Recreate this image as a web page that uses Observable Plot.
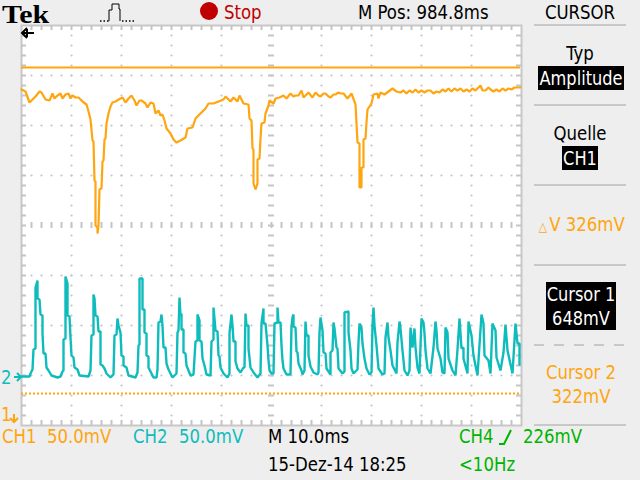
<!DOCTYPE html>
<html>
<head>
<meta charset="utf-8">
<script src="https://cdn.jsdelivr.net/npm/d3@7"></script>
<script src="https://cdn.jsdelivr.net/npm/@observablehq/plot@0.6"></script>
<style>
html,body{margin:0;padding:0;background:#eeeeee;width:640px;height:480px;overflow:hidden}
#scope{position:relative;width:640px;height:480px}
#scope svg.plot{position:absolute;left:0;top:0;background:transparent}
.t{position:absolute;font-family:"DejaVu Sans Condensed","Liberation Sans",sans-serif;font-size:20px;line-height:24px;white-space:pre;color:#000}
.sep{position:absolute;left:534px;width:92px;height:2px;background:#c8c8c8}
</style>
</head>
<body>
<div id="scope"></div>
<script>
// Sample column on the 500-point record, and screen level in mV above the bottom graticule edge.
const ch1Trace = [[0,336],[4,334],[8,323],[10,325],[14,329],[18,334],[20,333],[24,326],[28,325],[31,332],[33,327],[36,330],[39,332],[41,327],[44,331],[47,332],[49,327],[51,330],[54,328],[57,328],[61,324],[65,321],[67,314],[69,306],[71,285],[72,284],[73,245],[74,244],[74,200],[76,198],[76,192],[77,200],[78,236],[80,237],[81,264],[82,265],[83,286],[84,287],[85,302],[87,312],[89,319],[91,323],[94,324],[99,327],[101,328],[104,323],[107,327],[110,330],[113,325],[115,320],[118,325],[120,325],[124,322],[126,318],[129,323],[132,322],[134,312],[137,315],[139,310],[141,311],[143,305],[145,297],[149,292],[152,286],[155,283],[159,285],[164,288],[166,297],[171,298],[174,307],[179,312],[184,317],[187,322],[192,322],[197,324],[202,326],[204,329],[209,324],[212,328],[216,324],[218,330],[222,322],[227,321],[228,307],[230,305],[231,277],[232,276],[232,242],[234,236],[236,242],[236,266],[238,267],[239,287],[240,302],[243,303],[244,312],[247,320],[248,325],[252,322],[254,327],[258,328],[262,330],[265,327],[269,332],[272,329],[274,330],[277,330],[280,335],[282,328],[285,331],[287,333],[291,328],[294,333],[297,330],[299,329],[302,332],[304,332],[307,329],[309,328],[312,331],[314,331],[317,333],[319,332],[322,332],[326,327],[330,332],[334,321],[336,283],[338,282],[338,238],[340,238],[340,258],[342,258],[342,286],[344,287],[345,303],[346,316],[350,322],[352,331],[356,332],[357,327],[359,333],[363,331],[367,334],[371,337],[375,334],[379,333],[382,335],[385,332],[388,335],[391,333],[394,336],[397,333],[400,335],[403,333],[406,335],[409,335],[412,332],[415,334],[418,333],[421,336],[424,334],[427,337],[430,334],[433,337],[436,335],[439,337],[442,334],[445,336],[448,334],[451,337],[454,335],[457,338],[459,340],[461,335],[464,335],[467,338],[469,336],[472,334],[475,336],[478,334],[481,337],[484,335],[487,337],[490,336],[493,338],[496,338],[499,338]];
const ch2Trace = [[0,49],[4,49],[8,49],[9,52],[11,56],[12,76],[14,77],[14,138],[16,145],[16,127],[18,126],[19,111],[21,110],[21,92],[22,72],[24,72],[25,58],[27,55],[30,50],[36,48],[39,49],[41,54],[42,55],[42,86],[44,87],[44,149],[46,142],[46,110],[48,109],[49,88],[50,70],[52,68],[53,58],[56,56],[58,50],[67,49],[69,55],[70,90],[72,91],[72,131],[73,127],[74,110],[76,109],[77,94],[79,94],[79,61],[81,60],[83,57],[85,52],[89,48],[92,51],[93,90],[95,91],[96,107],[97,100],[99,93],[100,70],[102,69],[102,60],[105,58],[107,50],[114,48],[116,53],[117,80],[118,81],[118,147],[121,147],[121,116],[123,116],[123,93],[125,92],[125,70],[127,69],[127,58],[129,54],[132,48],[135,48],[136,56],[137,103],[139,104],[140,111],[141,100],[142,78],[144,78],[145,62],[147,56],[151,48],[155,52],[156,93],[157,95],[158,128],[159,110],[160,112],[160,96],[162,96],[162,73],[164,72],[165,60],[167,55],[169,50],[172,51],[174,84],[176,85],[176,111],[178,105],[178,85],[180,84],[181,67],[183,60],[185,51],[189,50],[190,84],[192,86],[192,118],[193,107],[194,95],[196,94],[197,70],[198,69],[199,58],[202,52],[206,48],[208,52],[208,92],[210,111],[211,100],[212,84],[214,84],[214,64],[216,57],[219,53],[222,58],[223,58],[224,112],[225,100],[227,100],[227,77],[229,58],[232,53],[236,48],[239,52],[240,102],[242,117],[242,102],[244,102],[246,80],[247,65],[248,55],[250,52],[252,52],[253,102],[256,103],[256,118],[257,103],[259,103],[260,80],[261,65],[262,57],[265,51],[269,51],[270,99],[271,108],[272,111],[272,99],[274,98],[275,74],[276,73],[277,62],[280,55],[281,51],[283,55],[284,104],[285,90],[287,90],[287,70],[289,59],[292,53],[296,51],[297,53],[298,93],[299,108],[301,95],[302,73],[304,72],[305,57],[309,51],[309,73],[311,75],[312,103],[313,97],[315,78],[316,77],[317,57],[321,52],[323,54],[323,113],[327,114],[327,93],[329,75],[330,57],[332,52],[336,56],[337,83],[338,102],[340,98],[341,82],[343,67],[345,57],[348,51],[350,53],[351,100],[352,118],[353,100],[355,80],[357,57],[361,51],[363,52],[364,88],[366,103],[367,88],[369,75],[371,60],[375,52],[376,83],[378,104],[379,97],[381,75],[383,55],[386,50],[388,55],[389,98],[391,78],[393,97],[394,78],[396,58],[398,52],[400,107],[402,103],[403,92],[404,75],[406,57],[409,52],[412,78],[414,104],[415,95],[416,77],[419,67],[421,53],[423,52],[424,98],[426,93],[427,67],[431,55],[434,50],[436,76],[438,107],[440,77],[442,78],[442,67],[446,52],[447,104],[450,90],[452,70],[456,50],[460,111],[462,102],[463,70],[467,65],[469,52],[471,102],[474,95],[475,68],[479,55],[482,73],[484,101],[486,75],[491,52],[494,102],[496,82],[498,82],[498,61]];
const cursor1Level = 358;
const cursor2Level = 32;
const gridSamples = [50,100,150,200,300,350,400,450];
const gridLevels = [50,100,150,250,300,350];
const minorSamples = d3.range(10,500,10);
const minorLevels = d3.range(10,400,10);
const centerSample = 250;
const centerLevel = 200;

const ORANGE = "#ffa50f", TEAL = "#0fbcbc", GRID = "#c4c4c4";
const dotsA = gridSamples.flatMap(x => minorLevels.map(y => ({x, y})));
const dotsB = gridLevels.flatMap(y => minorSamples.map(x => ({x, y})));

const chart = Plot.plot({
  width: 640, height: 480,
  marginLeft: 21, marginRight: 119, marginTop: 25, marginBottom: 55,
  x: {domain: [0, 500], axis: null},
  y: {domain: [0, 400], axis: null},
  marks: [
    Plot.frame({fill: "#ffffff", stroke: "#c8c8c8", strokeWidth: 2}),
    Plot.dot(dotsA, {x: "x", y: "y", r: 1.1, fill: GRID}),
    Plot.dot(dotsB, {x: "x", y: "y", r: 1.1, fill: GRID}),
    Plot.ruleY(minorLevels, {y: d => d, x1: 0, x2: 5, stroke: GRID, strokeWidth: 2}),
    Plot.ruleY(minorLevels, {y: d => d, x1: 495, x2: 500, stroke: GRID, strokeWidth: 2}),
    Plot.ruleX(minorSamples, {x: d => d, y1: 395, y2: 400, stroke: GRID, strokeWidth: 2}),
    Plot.ruleX(minorSamples, {x: d => d, y1: 0, y2: 5, stroke: GRID, strokeWidth: 2}),
    Plot.ruleY(minorLevels, {y: d => d, x1: centerSample - 3, x2: centerSample + 3, stroke: GRID, strokeWidth: 2}),
    Plot.ruleX(minorSamples, {x: d => d, y1: centerLevel - 3, y2: centerLevel + 3, stroke: GRID, strokeWidth: 2}),
    Plot.ruleY([cursor1Level], {x1: 0, x2: 499, stroke: ORANGE, strokeWidth: 2}),
    Plot.ruleY([cursor2Level], {x1: 0, x2: 499, stroke: ORANGE, strokeWidth: 2, strokeDasharray: "2,2"}),
    Plot.line(ch1Trace, {x: d => d[0], y: d => d[1], stroke: ORANGE, strokeWidth: 2.2, strokeLinejoin: "miter"}),
    Plot.line(ch2Trace, {x: d => d[0], y: d => d[1], stroke: TEAL, strokeWidth: 2.4, strokeLinejoin: "miter"})
  ]
});

const scope = document.getElementById("scope");
scope.appendChild(chart);

const labels = [
  ["M Pos: 984.8ms", 358, 0, "#000", "l"],
  ["CURSOR", 580, 0, "#000", "c"],
  ["Stop", 224, 0, "#c00000", "l"],
  ["Typ", 580, 41, "#000", "c"],
  ["Quelle", 580, 121, "#000", "c"],
  ["V 326mV", 587, 212, ORANGE, "c"],
  ["\u25B3", 543, 215, ORANGE, "c"],
  ["Cursor 2", 581, 360, ORANGE, "c"],
  ["322mV", 581, 384, ORANGE, "c"],
  ["CH1", 2, 424, ORANGE, "l"],
  ["50.0mV", 47, 424, ORANGE, "l"],
  ["CH2", 133, 424, TEAL, "l"],
  ["50.0mV", 179, 424, TEAL, "l"],
  ["M 10.0ms", 268, 424, "#000", "l"],
  ["15-Dez-14 18:25", 268, 452, "#000", "l"],
  ["CH4", 459, 424, "#00b400", "l"],
  ["226mV", 523, 424, "#00b400", "l"],
  ["<10Hz", 459, 452, "#00b400", "l"],
  ["2", 1, 365, TEAL, "l"],
  ["1", 1, 402, ORANGE, "l"]
];
for (const [text, x, y, color, align] of labels) {
  const el = document.createElement("div");
  el.className = "t";
  el.textContent = text;
  const tf = align === "c" ? "translateX(-50%) scaleX(.92)" : "scaleX(.92)";
  el.style.cssText = `left:${x}px;top:${y}px;color:${color};transform:${tf};transform-origin:${align === "c" ? "50%" : "0"} 50%` + (text === "\u25B3" ? ";font-size:13px" : "");
  scope.appendChild(el);
}
const boxes = [
  ["Amplitude", 538, 66, 86, 24],
  ["CH1", 562, 146, 36, 24],
  ["Cursor 1", 546, 282, 70, 24],
  ["648mV", 546, 306, 70, 24]
];
for (const [text, x, y, w, h] of boxes) {
  const el = document.createElement("div");
  el.style.cssText = `position:absolute;left:${x}px;top:${y}px;width:${w}px;height:${h}px;background:#000`;
  const t = document.createElement("div");
  t.className = "t";
  t.textContent = text;
  t.style.cssText = "left:50%;top:0;color:#fff;transform:translateX(-50%) scaleX(.9)";
  el.appendChild(t);
  scope.appendChild(el);
}
for (const y of [24, 104, 184, 264, 424]) {
  const el = document.createElement("div");
  el.className = "sep";
  el.style.top = y + "px";
  scope.appendChild(el);
}
const dash = document.createElement("div");
dash.className = "sep";
dash.style.cssText = "top:344px;background:repeating-linear-gradient(90deg,#c8c8c8 0 10px,transparent 10px 20px)";
scope.appendChild(dash);

const tek = document.createElement("div");
tek.className = "t";
tek.textContent = "Tek";
tek.style.cssText = "left:2px;top:0;font-family:'Liberation Serif',serif;font-weight:bold;font-size:26px;line-height:30px;color:#000;transform:scaleX(1.15);transform-origin:0 50%";
scope.appendChild(tek);

scope.insertAdjacentHTML("beforeend", `
<div style="position:absolute;left:200px;top:2px;width:18px;height:18px;border-radius:50%;background:#c00000"></div>
<svg style="position:absolute;left:0;top:0" width="640" height="480" fill="none">
  <path d="M100 21h9M122 21h14" stroke="#000" stroke-width="1.5" stroke-dasharray="1.5,2"/>
  <path d="M109 21V10h3V4h7v5h1v12" stroke="#000" stroke-width="1"/>
  <path d="M34 33H22M27 28l-5 5 5 5M27 29v8" stroke="#000" stroke-width="2"/>
  <path d="M14 377h7M17 373l4 4-4 4" stroke="${TEAL}" stroke-width="2"/>
  <path d="M14 414v8M10 418l4 4 4-4" stroke="${ORANGE}" stroke-width="2"/>
  <path d="M499 444h5l7-14" stroke="#00b400" stroke-width="2"/>
</svg>`);
</script>
</body>
</html>
